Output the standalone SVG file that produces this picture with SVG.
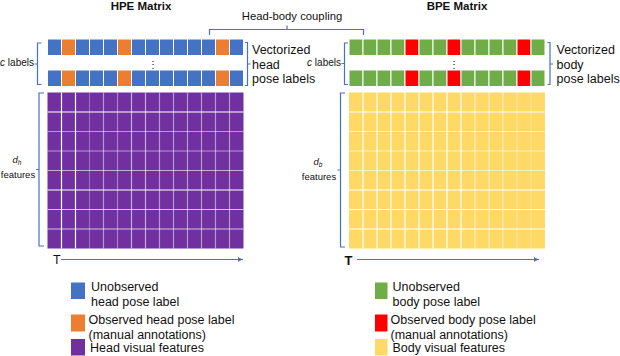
<svg xmlns="http://www.w3.org/2000/svg" width="620" height="356" viewBox="0 0 620 356">
<defs>
<style>
text{font-family:"Liberation Sans",Arial,sans-serif;fill:#111}
.title{font-size:11.5px;font-weight:bold;text-anchor:middle}
.big{font-size:12.5px}
.leg{font-size:12.5px}
.small{font-size:10px}
.feat{font-size:9.5px}
.br{fill:none;stroke:#4472C4;stroke-width:1.2}
.cell{stroke:#fff;stroke-width:1}
.b{fill:#4472C4}.o{fill:#ED7D31}.p{fill:#7030A0}.g{fill:#70AD47}.r{fill:#FF0000}.y{fill:#FFD966}
.grid{stroke:#fff;stroke-width:1.2}
.ax{stroke:#4472C4;stroke-width:1.2;fill:none}
</style>
<marker id="ah" markerWidth="6" markerHeight="6" refX="5" refY="3" orient="auto" markerUnits="userSpaceOnUse">
<path d="M0,0.8 L5,3 L0,5.2 z" fill="#4472C4"/>
</marker>
<pattern id="hcol" x="47.5" y="0" width="14" height="356" patternUnits="userSpaceOnUse">
<line x1="0" y1="0" x2="0" y2="356" stroke="#fff" stroke-width="1"/>
</pattern>
</defs>

<text class="title" x="141" y="10">HPE Matrix</text>
<text class="title" x="457" y="10">BPE Matrix</text>

<g id="coupling">
<text x="292" y="20" style="font-size:11.3px" text-anchor="middle">Head-body coupling</text>
<path class="br" d="M209.5,35 V29.5 H363.5 V35 M287,29.5 V25.5"/>
</g>

<g id="hpe-labels">
<g class="cell">
<rect class="b" x="47.5" y="39" width="14" height="16.5"/><rect class="o" x="61.5" y="39" width="14" height="16.5"/><rect class="b" x="75.5" y="39" width="14" height="16.5"/><rect class="b" x="89.5" y="39" width="14" height="16.5"/><rect class="b" x="103.5" y="39" width="14" height="16.5"/><rect class="o" x="117.5" y="39" width="14" height="16.5"/><rect class="b" x="131.5" y="39" width="14" height="16.5"/><rect class="b" x="145.5" y="39" width="14" height="16.5"/><rect class="b" x="159.5" y="39" width="14" height="16.5"/><rect class="b" x="173.5" y="39" width="14" height="16.5"/><rect class="b" x="187.5" y="39" width="14" height="16.5"/><rect class="b" x="201.5" y="39" width="14" height="16.5"/><rect class="o" x="215.5" y="39" width="14" height="16.5"/><rect class="b" x="229.5" y="39" width="14" height="16.5"/>
<rect class="b" x="47.5" y="70" width="14" height="16.5"/><rect class="o" x="61.5" y="70" width="14" height="16.5"/><rect class="b" x="75.5" y="70" width="14" height="16.5"/><rect class="b" x="89.5" y="70" width="14" height="16.5"/><rect class="b" x="103.5" y="70" width="14" height="16.5"/><rect class="o" x="117.5" y="70" width="14" height="16.5"/><rect class="b" x="131.5" y="70" width="14" height="16.5"/><rect class="b" x="145.5" y="70" width="14" height="16.5"/><rect class="b" x="159.5" y="70" width="14" height="16.5"/><rect class="b" x="173.5" y="70" width="14" height="16.5"/><rect class="b" x="187.5" y="70" width="14" height="16.5"/><rect class="b" x="201.5" y="70" width="14" height="16.5"/><rect class="o" x="215.5" y="70" width="14" height="16.5"/><rect class="b" x="229.5" y="70" width="14" height="16.5"/>
</g>
<text x="153" y="68" style="font-size:10px" text-anchor="middle">⋮</text>
<path class="br" d="M41.5,43 H37.5 V84.5 H41.5 M37.5,64 H34.5"/>
<text class="small" x="34" y="66" text-anchor="end"><tspan font-style="italic">c</tspan> labels</text>
<path class="br" d="M245,42.5 H247.5 V85.5 H245 M247.5,64 H250.5"/>
<text class="big" x="252" y="54">Vectorized</text>
<text class="big" x="252" y="69">head</text>
<text class="big" x="252" y="83">pose labels</text>
</g>

<g id="hpe-features">
<rect class="p" x="47.5" y="92.5" width="196" height="156"/>
<g class="grid">
<line x1="61.5" y1="92.5" x2="61.5" y2="248.5"/><line x1="75.5" y1="92.5" x2="75.5" y2="248.5"/><line x1="89.5" y1="92.5" x2="89.5" y2="248.5" stroke-opacity="0.3"/><line x1="103.5" y1="92.5" x2="103.5" y2="248.5" stroke-opacity="0.5"/><line x1="117.5" y1="92.5" x2="117.5" y2="248.5" stroke-opacity="0.4"/><line x1="131.5" y1="92.5" x2="131.5" y2="248.5" stroke-opacity="0.6"/><line x1="145.5" y1="92.5" x2="145.5" y2="248.5" stroke-opacity="0.6"/><line x1="159.5" y1="92.5" x2="159.5" y2="248.5" stroke-opacity="0.5"/><line x1="173.5" y1="92.5" x2="173.5" y2="248.5" stroke-opacity="0.5"/><line x1="187.5" y1="92.5" x2="187.5" y2="248.5" stroke-opacity="0.5"/><line x1="201.5" y1="92.5" x2="201.5" y2="248.5" stroke-opacity="0.5"/><line x1="215.5" y1="92.5" x2="215.5" y2="248.5" stroke-opacity="0.5"/><line x1="229.5" y1="92.5" x2="229.5" y2="248.5" stroke-opacity="0.5"/>
<line x1="47.5" y1="112" x2="243.5" y2="112"/><line x1="47.5" y1="131.5" x2="243.5" y2="131.5" stroke-opacity="0.5"/><line x1="47.5" y1="151" x2="243.5" y2="151" stroke-opacity="0.5"/><line x1="47.5" y1="170.5" x2="243.5" y2="170.5" stroke-opacity="0.6"/><line x1="47.5" y1="190" x2="243.5" y2="190"/><line x1="47.5" y1="209.5" x2="243.5" y2="209.5" stroke-opacity="0.7"/><line x1="47.5" y1="229" x2="243.5" y2="229" stroke-opacity="0.7"/>
</g>
<path class="br" d="M44,93 H39 V246 H44 M39,169.5 H36"/>
<text class="feat" x="17" y="163" text-anchor="middle"><tspan font-style="italic">d</tspan><tspan font-size="6.5px" dy="2" font-style="italic">h</tspan></text>
<text class="feat" x="18" y="178" text-anchor="middle">features</text>
</g>

<g id="hpe-axis">
<text x="53" y="264" style="font-size:12.5px">T</text>
<line class="ax" x1="61" y1="259.5" x2="243" y2="259.5" marker-end="url(#ah)"/>
</g>

<g id="bpe-labels">
<g class="cell">
<rect class="g" x="349" y="39" width="14" height="16.5"/><rect class="g" x="363" y="39" width="14" height="16.5"/><rect class="g" x="377" y="39" width="14" height="16.5"/><rect class="g" x="391" y="39" width="14" height="16.5"/><rect class="r" x="405" y="39" width="14" height="16.5"/><rect class="g" x="419" y="39" width="14" height="16.5"/><rect class="g" x="433" y="39" width="14" height="16.5"/><rect class="r" x="447" y="39" width="14" height="16.5"/><rect class="g" x="461" y="39" width="14" height="16.5"/><rect class="g" x="475" y="39" width="14" height="16.5"/><rect class="g" x="489" y="39" width="14" height="16.5"/><rect class="g" x="503" y="39" width="14" height="16.5"/><rect class="r" x="517" y="39" width="14" height="16.5"/><rect class="g" x="531" y="39" width="14" height="16.5"/>
<rect class="g" x="349" y="70" width="14" height="16.5"/><rect class="g" x="363" y="70" width="14" height="16.5"/><rect class="g" x="377" y="70" width="14" height="16.5"/><rect class="g" x="391" y="70" width="14" height="16.5"/><rect class="r" x="405" y="70" width="14" height="16.5"/><rect class="g" x="419" y="70" width="14" height="16.5"/><rect class="g" x="433" y="70" width="14" height="16.5"/><rect class="r" x="447" y="70" width="14" height="16.5"/><rect class="g" x="461" y="70" width="14" height="16.5"/><rect class="g" x="475" y="70" width="14" height="16.5"/><rect class="g" x="489" y="70" width="14" height="16.5"/><rect class="g" x="503" y="70" width="14" height="16.5"/><rect class="r" x="517" y="70" width="14" height="16.5"/><rect class="g" x="531" y="70" width="14" height="16.5"/>
</g>
<text x="453.5" y="68" style="font-size:10px" text-anchor="middle">⋮</text>
<path class="br" d="M348,43 H344.5 V84.5 H348 M344.5,63.5 H341.5"/>
<text class="small" x="341" y="66" text-anchor="end"><tspan font-style="italic">c</tspan> labels</text>
<path class="br" d="M547.5,42.5 H550 V84.5 H547.5 M550,64 H553"/>
<text class="big" x="556.5" y="54">Vectorized</text>
<text class="big" x="556.5" y="69">body</text>
<text class="big" x="556.5" y="83">pose labels</text>
</g>

<g id="bpe-features">
<rect class="y" x="349" y="92.5" width="196" height="156"/>
<g class="grid">
<line x1="363" y1="92.5" x2="363" y2="248.5"/><line x1="377" y1="92.5" x2="377" y2="248.5"/><line x1="391" y1="92.5" x2="391" y2="248.5"/><line x1="405" y1="92.5" x2="405" y2="248.5"/><line x1="419" y1="92.5" x2="419" y2="248.5"/><line x1="433" y1="92.5" x2="433" y2="248.5"/><line x1="447" y1="92.5" x2="447" y2="248.5"/><line x1="461" y1="92.5" x2="461" y2="248.5"/><line x1="475" y1="92.5" x2="475" y2="248.5" stroke-opacity="0.6"/><line x1="489" y1="92.5" x2="489" y2="248.5" stroke-opacity="0.6"/><line x1="503" y1="92.5" x2="503" y2="248.5" stroke-opacity="0.6"/><line x1="517" y1="92.5" x2="517" y2="248.5" stroke-opacity="0.4"/><line x1="531" y1="92.5" x2="531" y2="248.5" stroke-opacity="0.3"/>
<line x1="349" y1="112" x2="545" y2="112"/><line x1="349" y1="131.5" x2="545" y2="131.5" stroke-opacity="0.6"/><line x1="349" y1="151" x2="545" y2="151" stroke-opacity="0.6"/><line x1="349" y1="170.5" x2="545" y2="170.5" stroke-opacity="0.6"/><line x1="349" y1="190" x2="545" y2="190"/><line x1="349" y1="209.5" x2="545" y2="209.5"/><line x1="349" y1="229" x2="545" y2="229"/>
</g>
<path class="br" d="M345,93 H340.5 V247 H345 M340.5,170 H337.5"/>
<text class="feat" x="318" y="165" text-anchor="middle"><tspan font-style="italic">d</tspan><tspan font-size="6.5px" dy="2" font-style="italic">b</tspan></text>
<text class="feat" x="319" y="180" text-anchor="middle">features</text>
</g>

<g id="bpe-axis">
<text x="344.5" y="264.5" style="font-size:13px;font-weight:bold">T</text>
<line class="ax" x1="357" y1="259.5" x2="539" y2="259.5" marker-end="url(#ah)"/>
</g>

<g id="legend-head">
<rect class="b" x="71" y="282.5" width="14" height="16.5"/>
<text class="leg" x="91" y="291">Unobserved</text>
<text class="leg" x="91" y="306">head pose label</text>
<rect class="o" x="71" y="314.5" width="14" height="17"/>
<text class="leg" x="88.5" y="324">Observed head pose label</text>
<text class="leg" x="88.5" y="339">(manual annotations)</text>
<rect class="p" x="71" y="339" width="14" height="16.5"/>
<text class="leg" x="90" y="352">Head visual features</text>
</g>

<g id="legend-body">
<rect class="g" x="375" y="282.5" width="12.5" height="16.5"/>
<text class="leg" x="392.5" y="291">Unobserved</text>
<text class="leg" x="392.5" y="306">body pose label</text>
<rect class="r" x="375" y="314.5" width="12.5" height="17"/>
<text class="leg" x="390.5" y="324">Observed body pose label</text>
<text class="leg" x="390.5" y="339">(manual annotations)</text>
<rect class="y" x="375" y="339" width="12.5" height="16.5"/>
<text class="leg" x="392.5" y="352">Body visual features</text>
</g>
</svg>
